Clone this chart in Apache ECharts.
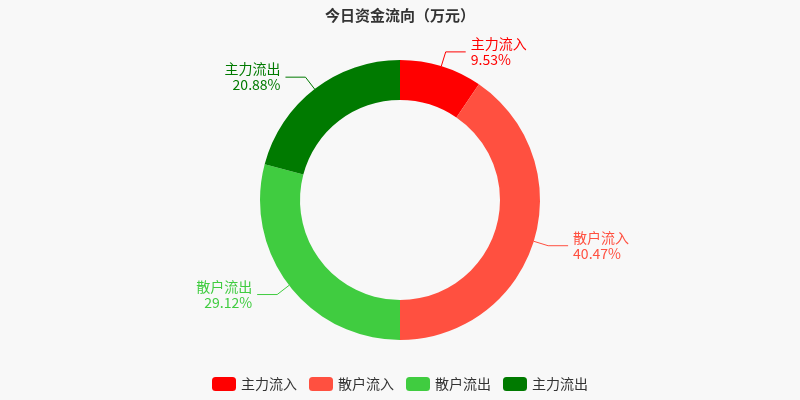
<!DOCTYPE html><html><head><meta charset="utf-8"><script src="https://cdn.jsdelivr.net/npm/echarts@6/dist/echarts.min.js"></script>
<style>html,body{margin:0;background:#f8f8f8}#c{width:800px;height:400px}</style></head><body><div id="c"></div><script>
const names=['主力流入','散户流入','散户流出','主力流出'];
const values=[9.53,40.47,29.12,20.88];
const colors=['#ff0000','#ff5040','#40cc40','#007a00'];
const ch=echarts.init(document.getElementById('c'));
ch.setOption({backgroundColor:'#f8f8f8',
title:{text:'今日资金流向（万元）',left:'center',top:3,textStyle:{fontSize:15,fontWeight:'bold',color:'#333',fontFamily:'Noto Sans CJK SC'}},
legend:{bottom:4,itemWidth:24,itemHeight:14,itemGap:12,textStyle:{fontSize:14,color:'#333',fontFamily:'Noto Sans CJK SC'},data:names},
series:[{type:'pie',center:['50%','50%'],radius:[100,140],startAngle:90,color:colors,
label:{formatter:'{b}\n{d}%',fontSize:14,lineHeight:16,fontFamily:'Noto Sans CJK SC'},
labelLine:{length:15,length2:20},
data:names.map((n,i)=>({name:n,value:values[i],label:{color:colors[i]}}))}]});
</script></body></html>
